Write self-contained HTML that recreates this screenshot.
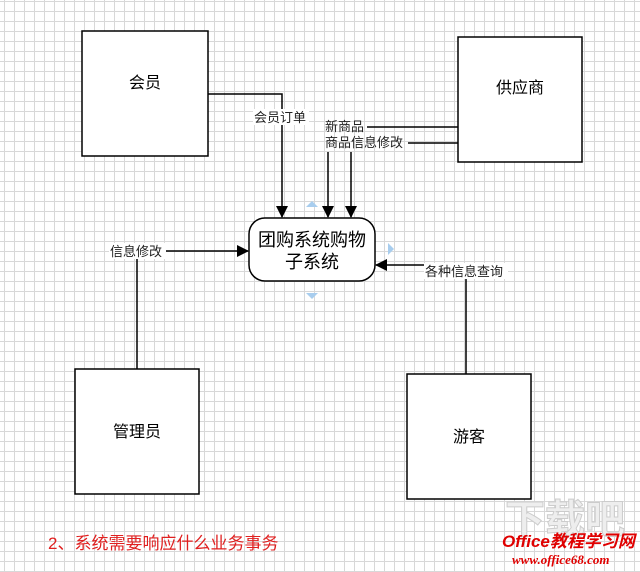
<!DOCTYPE html>
<html><head><meta charset="utf-8"><style>
html,body{margin:0;padding:0}
body{width:640px;height:572px;position:relative;overflow:hidden;background:#fff;
background-image:linear-gradient(to right,#d8d8d8 1px,transparent 1px),linear-gradient(to bottom,#d8d8d8 1px,transparent 1px);
background-size:10px 10px;background-position:4px 1px;font-family:"Liberation Sans","Noto Sans CJK SC",sans-serif}
svg{position:absolute;left:0;top:0}
</style></head><body>
<svg width="640" height="572" viewBox="0 0 640 572" font-family="Liberation Sans, Noto Sans CJK SC, sans-serif">
<defs><marker id="a" markerWidth="12" markerHeight="12" refX="11" refY="6" orient="auto" markerUnits="userSpaceOnUse"><path d="M0,0 L12,6 L0,12 z" fill="#000"/></marker></defs>
<g fill="#fff" stroke="#000" stroke-width="1.5">
<rect x="82" y="31" width="126" height="125"/>
<rect x="458" y="37" width="124" height="125"/>
<rect x="75" y="369" width="124" height="125"/>
<rect x="407" y="374" width="124" height="125"/>
<rect x="249" y="218" width="126" height="63" rx="16"/>
</g>
<g fill="none" stroke="#000" stroke-width="1.5">
<polyline points="208,94 282,94 282,217" marker-end="url(#a)"/>
<line x1="328" y1="152" x2="328" y2="217" marker-end="url(#a)"/>
<line x1="351" y1="152" x2="351" y2="217" marker-end="url(#a)"/>
<line x1="367" y1="127" x2="458" y2="127"/>
<line x1="408" y1="143" x2="458" y2="143"/>
<polyline points="137,369 137,251 248,251" marker-end="url(#a)"/>
<polyline points="466,374 466,265 376,265" marker-end="url(#a)"/>
</g>
<g fill="#a8cdee">
<path d="M306,207 L312,201 L318,207z"/><path d="M306,293 L312,299 L318,293z"/><path d="M388,243 L394,249 L388,255z"/>
</g>
<g font-size="16" text-anchor="middle" fill="#000">
<text x="145" y="88">会员</text>
<text x="520" y="93">供应商</text>
<text x="137" y="437">管理员</text>
<text x="469" y="442">游客</text>
<text x="312" y="246" font-size="18">团购系统购物</text>
<text x="312" y="268" font-size="18">子系统</text>
</g>
<g font-size="13" fill="#222">
<rect x="253" y="109" width="56" height="16" fill="#fff"/>
<text x="254" y="122">会员订单</text>
<text x="325" y="131">新商品</text>
<text x="325" y="147">商品信息修改</text>
<rect x="109" y="243" width="57" height="16" fill="#fff"/>
<text x="110" y="256">信息修改</text>
<rect x="424" y="263" width="84" height="16" fill="#fff"/>
<text x="425" y="276">各种信息查询</text>
</g>
<text x="48" y="549" font-size="17" fill="#e02020">2、系统需要响应什么业务事务</text>
<text x="505" y="533" font-size="40" fill="#eee" stroke="#ccc" stroke-width="1" font-weight="bold">下载吧</text>
<text x="502" y="547" font-size="17" font-style="italic" font-weight="bold" fill="#e00000">Office教程学习网</text>
<text x="512" y="564" font-size="13" font-style="italic" font-weight="bold" fill="#e00000" font-family="Liberation Serif, serif">www.office68.com</text>
</svg>
</body></html>
